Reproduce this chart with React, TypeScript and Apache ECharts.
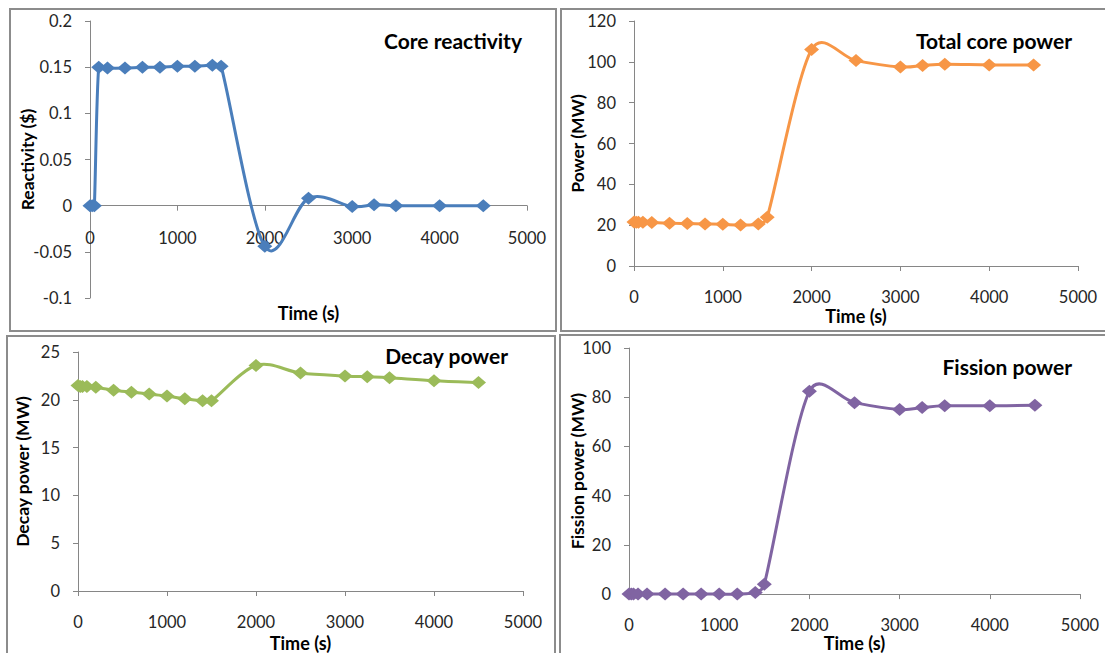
import React, { useEffect, useRef } from "react";
import * as echarts from "echarts";

// ---- data ----
const TIME = [0, 25, 50, 100, 200, 400, 600, 800, 1000, 1200, 1400, 1500, 2000, 2500, 3000, 3250, 3500, 4000, 4500];
const REACTIVITY = [0, 0, 0, 0.15, 0.149, 0.149, 0.15, 0.15, 0.151, 0.151, 0.152, 0.151, -0.044, 0.008, -0.001, 0.001, 0, 0, 0];
const TOTAL_POWER = [21.5, 21.4, 21.4, 21.4, 21.3, 21.0, 20.8, 20.6, 20.4, 20.1, 20.6, 23.9, 106.0, 100.6, 97.5, 98.2, 98.8, 98.5, 98.5];
const DECAY_POWER = [21.5, 21.4, 21.4, 21.4, 21.3, 21.0, 20.8, 20.6, 20.4, 20.1, 19.9, 19.9, 23.6, 22.8, 22.5, 22.4, 22.3, 22.0, 21.8];
const FISSION_POWER = [0, 0, 0, 0, 0, 0, 0, 0, 0, 0, 0.7, 4.0, 82.4, 77.8, 75.0, 75.8, 76.5, 76.5, 76.7];

const TITLES = ["Core reactivity", "Total core power", "Decay power", "Fission power"];
const Y_NAMES = ["Reactivity ($)", "Power (MW)", "Decay power (MW)", "Fission power (MW)"];
const X_NAME = "Time (s)";
const X_RANGE = { min: 0, max: 5000, interval: 1000 };
const Y_RANGES = [
  { min: -0.1, max: 0.2, interval: 0.05 },
  { min: 0, max: 120, interval: 20 },
  { min: 0, max: 25, interval: 5 },
  { min: 0, max: 100, interval: 20 },
];
const SERIES_VALUES = [REACTIVITY, TOTAL_POWER, DECAY_POWER, FISSION_POWER];
const COLORS = ["#4A7EBB", "#F79646", "#9BBB59", "#8064A2"];

// ---- layout ----
const FONT = "Lato, 'Open Sans', sans-serif";
const GRIDS = [
  { left: 90, top: 21, width: 437, height: 277 },
  { left: 634, top: 21, width: 444, height: 245 },
  { left: 78, top: 352, width: 445, height: 240 },
  { left: 629, top: 348, width: 451, height: 250 },
];
const BORDERS = [
  { x: 10, y: 9, width: 546, height: 322 },
  { x: 561, y: 9, width: 560, height: 322 },
  { x: 7, y: 336, width: 548, height: 330 },
  { x: 560, y: 335, width: 560, height: 330 },
];
const X_LABEL_MARGINS = [-69, 22, 22, 22];
const X_NAME_GAPS = [6, 41, 43, 33];
const Y_NAME_GAPS = [54, 48, 47, 43];
const TITLE_POS = [
  { x: 522, y: 40 },
  { x: 1072, y: 40 },
  { x: 508, y: 355 },
  { x: 1072, y: 366 },
];
const LINE_WIDTH = 3;

// Excel-style smoothed line (Catmull-Rom Bezier), drawn through the axes' own coordinates.
function smoothRenderer(values: number[], color: string) {
  return (params: any, api: any) => {
    if (params.dataIndex !== 0) return null;
    const pts: number[][] = TIME.map((t, k) => api.coord([t, values[k]]));
    const n = pts.length;
    const tangent = (a: number[], b: number[]) => [(b[0] - a[0]) / 6, (b[1] - a[1]) / 6];
    const cap = (v: number[], maxLen: number) => {
      const len = Math.hypot(v[0], v[1]);
      if (len <= maxLen || len === 0) return v;
      return [(v[0] * maxLen) / len, (v[1] * maxLen) / len];
    };
    const children: any[] = [];
    for (let i = 0; i < n - 1; i++) {
      const p0 = pts[Math.max(i - 1, 0)];
      const p1 = pts[i];
      const p2 = pts[i + 1];
      const p3 = pts[Math.min(i + 2, n - 1)];
      const segLen = Math.hypot(p2[0] - p1[0], p2[1] - p1[1]);
      const t1 = cap(tangent(p0, p2), segLen * 0.5);
      const t2 = cap(tangent(p1, p3), segLen * 0.5);
      children.push({
        type: "bezierCurve",
        shape: {
          x1: p1[0],
          y1: p1[1],
          x2: p2[0],
          y2: p2[1],
          cpx1: p1[0] + t1[0],
          cpy1: p1[1] + t1[1],
          cpx2: p2[0] - t2[0],
          cpy2: p2[1] - t2[1],
        },
        style: { stroke: color, lineWidth: LINE_WIDTH, fill: "none", lineCap: "round", lineJoin: "round" },
      });
    }
    return { type: "group", children };
  };
}

export default function App() {
  const ref = useRef<HTMLDivElement>(null);

  useEffect(() => {
    const chart = echarts.init(ref.current!, null, { renderer: "svg" });
    const axisLine = { show: true, lineStyle: { color: "#868686", width: 1 } };
    const axisTick = { show: true, inside: false, length: 5, lineStyle: { color: "#868686" } };
    const labelStyle = { color: "#262626", fontFamily: FONT, fontSize: 16.5 };
    const nameStyle = { color: "#000", fontFamily: FONT, fontSize: 18, fontWeight: "bold" as const };

    const option: any = {
      animation: false,
      backgroundColor: "#ffffff",
      grid: GRIDS.map((g) => ({ ...g, containLabel: false })),
      xAxis: GRIDS.map((_, i) => ({
        type: "value",
        gridIndex: i,
        ...X_RANGE,
        axisLine: { ...axisLine, onZero: true },
        axisTick,
        splitLine: { show: false },
        axisLabel: { ...labelStyle, margin: X_LABEL_MARGINS[i], formatter: (v: number) => String(v) },
        name: X_NAME,
        nameLocation: "middle",
        nameGap: X_NAME_GAPS[i],
        nameTextStyle: nameStyle,
      })),
      yAxis: GRIDS.map((_, i) => ({
        type: "value",
        gridIndex: i,
        ...Y_RANGES[i],
        axisLine: { ...axisLine, onZero: false },
        axisTick,
        splitLine: { show: false },
        axisLabel: { ...labelStyle, margin: 18, formatter: (v: number) => String(v) },
        name: Y_NAMES[i],
        nameLocation: "middle",
        nameGap: Y_NAME_GAPS[i],
        nameMoveOverlap: false,
        nameTextStyle: { ...nameStyle, fontSize: 17.5 },
      })),
      series: [
        ...SERIES_VALUES.map((vals, i) => ({
          type: "custom",
          name: TITLES[i],
          xAxisIndex: i,
          yAxisIndex: i,
          data: TIME.map((t, k) => [t, vals[k]]),
          encode: { x: 0, y: 1 },
          renderItem: smoothRenderer(vals, COLORS[i]),
          clip: false,
          silent: true,
          z: 2,
        })),
        ...SERIES_VALUES.map((vals, i) => ({
          type: "scatter",
          name: TITLES[i],
          xAxisIndex: i,
          yAxisIndex: i,
          data: TIME.map((t, k) => [t, vals[k]]),
          symbol: "diamond",
          symbolSize: [15, 13],
          itemStyle: { color: COLORS[i], opacity: 1 },
          z: 3,
        })),
      ],
      graphic: [
        ...BORDERS.map((b) => ({
          type: "rect",
          shape: b,
          style: { fill: "none", stroke: "#8c8c8c", lineWidth: 2 },
          z: -1,
          silent: true,
        })),
        ...TITLES.map((t, i) => ({
          type: "text",
          x: TITLE_POS[i].x,
          y: TITLE_POS[i].y,
          style: {
            text: t,
            fill: "#000",
            font: `bold 21px ${FONT}`,
            textAlign: "right",
            textVerticalAlign: "middle",
          },
          silent: true,
        })),
      ],
    };
    chart.setOption(option);
    return () => chart.dispose();
  }, []);

  return (
    <div
      ref={ref}
      style={{ position: "absolute", left: 0, top: 0, width: 1105, height: 653, background: "#fff" }}
    />
  );
}
